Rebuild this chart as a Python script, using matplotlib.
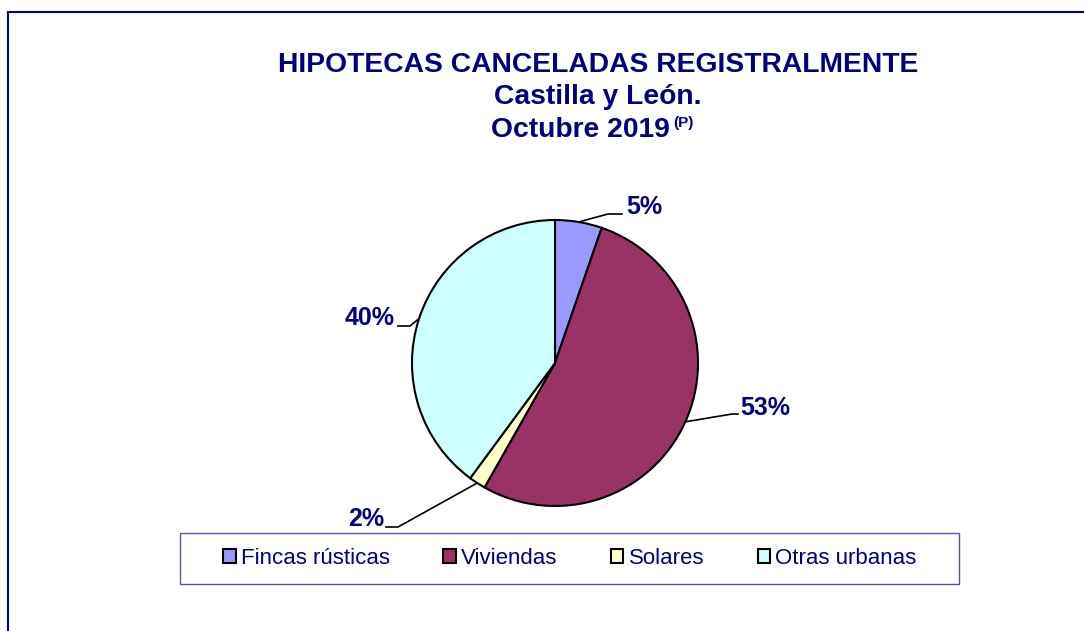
import numpy as np
import matplotlib
matplotlib.use("Agg")
from matplotlib import pyplot as plt
from matplotlib.patches import Rectangle

# datos
categorias = ['Fincas rústicas', 'Viviendas', 'Solares', 'Otras urbanas']
porcentajes = [5.3, 52.9, 1.9, 39.9]
etiquetas = ['5%', '53%', '2%', '40%']
colores = ['#9999FF', '#993366', '#FFFFCC', '#CCFFFF']

AZUL = '#000080'
W, H = 1084, 631

plt.rcParams['font.family'] = ['Liberation Sans', 'DejaVu Sans']

fig = plt.figure(figsize=(W / 100, H / 100), dpi=100)
ax = fig.add_axes([0, 0, 1, 1])


def py(y):
    # pixel y (desde arriba) -> coordenada de datos
    return H - y


# tarta
cx, cy, r = 555, py(363), 143
wedges, _ = ax.pie(porcentajes, colors=colores, startangle=90, counterclock=False,
                   center=(cx, cy), radius=r, frame=True,
                   wedgeprops=dict(edgecolor='black', linewidth=1.5))
ax.set_xlim(0, W)
ax.set_ylim(0, H)
ax.axis('off')

# marco exterior
ax.add_patch(Rectangle((8, py(H + 20)), W + 20, H + 8, fill=False,
                       edgecolor='#000099', linewidth=1.5, clip_on=False))

# etiquetas con líneas guía: (codo, fin de línea horizontal, posición texto, alineación)
guias = [
    ((608, 214), (622, 214), (626, 207), 'left'),
    ((732, 414), (738, 414), (740, 408), 'left'),
    ((398, 527), (386, 527), (384, 519), 'right'),
    ((410, 326), (398, 326), (395, 318), 'right'),
]
for w, et, (codo, fin, pos, ha) in zip(wedges, etiquetas, guias):
    ang = np.deg2rad((w.theta1 + w.theta2) / 2)
    x0 = cx + r * np.cos(ang)
    y0 = cy + r * np.sin(ang)
    ax.plot([x0, codo[0], fin[0]], [y0, py(codo[1]), py(fin[1])],
            color='black', linewidth=1.2)
    ax.text(pos[0], py(pos[1]), et, ha=ha, va='center', fontsize=18,
            fontweight='bold', color=AZUL)

# título
ax.text(598, py(72), 'HIPOTECAS CANCELADAS REGISTRALMENTE', ha='center',
        va='baseline', fontsize=20.3, fontweight='bold', color=AZUL)
ax.text(598, py(103.5), 'Castilla y León.', ha='center', va='baseline',
        fontsize=20.3, fontweight='bold', color=AZUL)
t3 = ax.text(580, py(137), 'Octubre 2019', ha='center', va='baseline',
             fontsize=20.3, fontweight='bold', color=AZUL)
ax.annotate('(P)', xy=(1, 1), xycoords=t3, xytext=(3, 1), textcoords='offset points',
            ha='left', va='top', fontsize=11, fontweight='bold', color=AZUL)

# leyenda
ax.add_patch(Rectangle((180, py(584)), 779, 51, fill=False,
                       edgecolor='#5555A5', linewidth=1.0))
leg = ax.legend(wedges, categorias, loc='center', bbox_to_anchor=(570, py(558.5)),
                bbox_transform=ax.transData, ncol=4, frameon=False, fontsize=16,
                handlelength=0.55, handleheight=0.55, handletextpad=0.25,
                columnspacing=2.4)
for t in leg.get_texts():
    t.set_color(AZUL)

fig.savefig('out.png', dpi=100)
plt.close()
